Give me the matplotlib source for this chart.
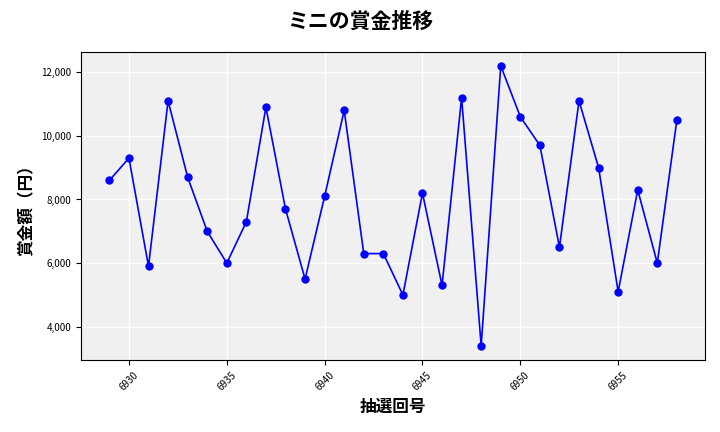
import matplotlib
matplotlib.use("Agg")
import matplotlib.pyplot as plt
from matplotlib.ticker import FuncFormatter, MultipleLocator

plt.rcParams['font.family'] = ['Noto Sans CJK JP', 'DejaVu Sans']

draws = list(range(6929, 6959))
prizes = [8600, 9300, 5900, 11100, 8700, 7000, 6000, 7300, 10900, 7700,
          5500, 8100, 10800, 6300, 6300, 5000, 8200, 5300, 11200, 3400,
          12200, 10600, 9700, 6500, 11100, 9000, 5100, 8300, 6000, 10500]

fig = plt.figure(figsize=(7.2, 4.32), dpi=100)
ax = fig.add_axes([0.1125, 0.167, 0.867, 0.713])
ax.set_facecolor('#f0f0f0')
ax.grid(True, color='white', linewidth=1)
ax.set_axisbelow(True)
ax.plot(draws, prizes, color='blue', marker='o', markersize=5, linewidth=1.2)
ax.xaxis.set_major_locator(MultipleLocator(5))
ax.yaxis.set_major_formatter(FuncFormatter(lambda v, p: f"{int(v):,}"))
ax.tick_params(axis='x', labelrotation=45, labelsize=7)
ax.tick_params(axis='y', labelsize=7)
ax.set_xlabel('抽選回号', fontsize=12, fontweight='bold')
ax.set_ylabel('賞金額（円）', fontsize=12, fontweight='bold')
fig.suptitle('ミニの賞金推移', fontsize=15, fontweight='bold', y=0.975)
fig.savefig('out.png', dpi=100)
